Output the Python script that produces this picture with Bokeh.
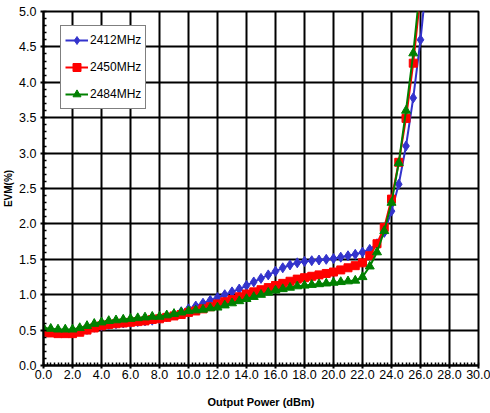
from bokeh.plotting import figure
from bokeh.models import SingleIntervalTicker, PrintfTickFormatter, Range1d
from bokeh.embed import file_html
from bokeh.resources import INLINE

# Output power (dBm)
x_power = [0.0, 0.5, 1.0, 1.5, 2.0, 2.5, 3.0, 3.5, 4.0, 4.5,
           5.0, 5.5, 6.0, 6.5, 7.0, 7.5, 8.0, 8.5, 9.0, 9.5,
           10.0, 10.5, 11.0, 11.5, 12.0, 12.5, 13.0, 13.5, 14.0, 14.5,
           15.0, 15.5, 16.0, 16.5, 17.0, 17.5, 18.0, 18.5, 19.0, 19.5,
           20.0, 20.5, 21.0, 21.5, 22.0, 22.5, 23.0, 23.5, 24.0, 24.5,
           25.0, 25.5, 26.0, 26.5]

# EVM (%) per frequency
evm_2412 = [0.50, 0.49, 0.48, 0.48, 0.48, 0.49, 0.51, 0.54, 0.56, 0.58,
            0.59, 0.60, 0.61, 0.62, 0.63, 0.64, 0.66, 0.69, 0.72, 0.76,
            0.80, 0.84, 0.88, 0.92, 0.96, 1.00, 1.04, 1.08, 1.13, 1.18,
            1.23, 1.28, 1.33, 1.38, 1.42, 1.45, 1.47, 1.48, 1.49, 1.50,
            1.51, 1.53, 1.55, 1.57, 1.60, 1.64, 1.72, 1.88, 2.18, 2.56,
            3.10, 3.78, 4.60, 5.60]
evm_2450 = [0.47, 0.46, 0.45, 0.45, 0.45, 0.47, 0.50, 0.53, 0.56, 0.58,
            0.59, 0.60, 0.61, 0.62, 0.63, 0.65, 0.66, 0.68, 0.70, 0.72,
            0.75, 0.77, 0.80, 0.83, 0.87, 0.90, 0.93, 0.97, 1.01, 1.04,
            1.07, 1.10, 1.13, 1.16, 1.19, 1.22, 1.24, 1.26, 1.28, 1.30,
            1.32, 1.35, 1.38, 1.41, 1.45, 1.55, 1.72, 1.95, 2.35, 2.87,
            3.49, 4.27, 5.25]
evm_2484 = [0.53, 0.52, 0.51, 0.51, 0.51, 0.53, 0.56, 0.59, 0.61, 0.63,
            0.64, 0.65, 0.66, 0.67, 0.68, 0.69, 0.69, 0.71, 0.73, 0.75,
            0.77, 0.78, 0.79, 0.81, 0.82, 0.85, 0.88, 0.91, 0.94, 0.97,
            1.00, 1.03, 1.06, 1.08, 1.10, 1.12, 1.13, 1.14, 1.15, 1.16,
            1.17, 1.18, 1.19, 1.20, 1.25, 1.40, 1.60, 1.90, 2.30, 2.86,
            3.60, 4.41, 5.40]

series_names = ["2412MHz", "2450MHz", "2484MHz"]
x_label = "Output Power (dBm)"
y_label = "EVM(%)"

FONT = "Liberation Sans"

p = figure(frame_width=435, frame_height=354,
           x_range=Range1d(0, 30), y_range=Range1d(0, 5),
           output_backend="svg", toolbar_location=None,
           min_border_left=43, min_border_right=12, min_border_top=11, min_border_bottom=48)
p.background_fill_color = "white"
p.border_fill_color = "white"
p.outline_line_color = "black"
p.outline_line_width = 2

xt = SingleIntervalTicker(interval=2, num_minor_ticks=8)
yt = SingleIntervalTicker(interval=0.5, num_minor_ticks=5)
p.xaxis.ticker = xt
p.yaxis.ticker = yt
p.xgrid.ticker = xt
p.ygrid.ticker = yt
p.xaxis.formatter = PrintfTickFormatter(format="%.1f")
p.yaxis.formatter = PrintfTickFormatter(format="%.1f")

p.grid.grid_line_color = "black"
p.grid.grid_line_width = 2
p.grid.grid_line_alpha = 1.0

for ax in (p.xaxis, p.yaxis):
    ax.axis_line_color = "black"
    ax.axis_line_width = 2
    ax.major_tick_line_color = "black"
    ax.major_tick_line_width = 2
    ax.major_tick_in = 0
    ax.major_tick_out = 3
    ax.minor_tick_line_color = "black"
    ax.minor_tick_line_width = 1.5
    ax.minor_tick_in = 3
    ax.minor_tick_out = 0
    ax.major_label_text_font = FONT
    ax.major_label_text_font_size = "12.5px"
    ax.major_label_text_color = "black"
    ax.axis_label_text_font = FONT
    ax.axis_label_text_font_style = "bold"
    ax.axis_label_text_color = "black"

p.xaxis.axis_label = x_label
p.xaxis.axis_label_text_font_size = "11px"
p.xaxis.major_label_standoff = 1
p.xaxis.axis_label_standoff = 14
p.yaxis.axis_label = y_label
p.yaxis.axis_label_text_font_size = "10px"
p.yaxis.major_label_standoff = 4
p.yaxis.axis_label_standoff = 2

x_blue = x_power[:len(evm_2412)]
x_red = x_power[:len(evm_2450)]
x_green = x_power[:len(evm_2484)]

blue = "#3333CC"
red = "#FF0000"
green = "#008000"

p.line(x_blue, evm_2412, line_color=blue, line_width=2, legend_label=series_names[0])
p.scatter(x_blue, evm_2412, marker="diamond", size=10, fill_color=blue, line_color=blue,
          legend_label=series_names[0])
p.line(x_red, evm_2450, line_color=red, line_width=2, legend_label=series_names[1])
p.scatter(x_red, evm_2450, marker="square", size=8, fill_color=red, line_color=red,
          legend_label=series_names[1])
p.line(x_green, evm_2484, line_color=green, line_width=2, legend_label=series_names[2])
p.scatter(x_green, evm_2484, marker="triangle", size=9, fill_color=green, line_color=green,
          legend_label=series_names[2])

lg = p.legend[0]
lg.location = (17, 256)
lg.label_text_font = FONT
lg.label_text_font_size = "12px"
lg.label_text_color = "black"
lg.label_height = 20
lg.glyph_height = 20
lg.glyph_width = 23
lg.spacing = 7
lg.padding = 4
lg.margin = 0
lg.label_standoff = 2
lg.border_line_color = "black"
lg.border_line_width = 1.5
lg.background_fill_color = "white"
lg.background_fill_alpha = 1.0

open("out.html", "w").write(file_html(p, INLINE))
